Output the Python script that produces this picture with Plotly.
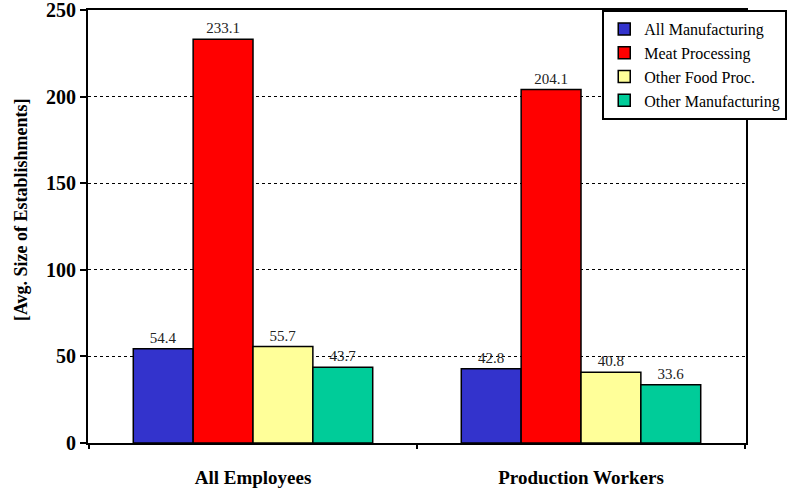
import plotly.graph_objects as go

# Average establishment size by worker type
groups = ["All Employees", "Production Workers"]
series_names = ["All Manufacturing", "Meat Processing", "Other Food Proc.", "Other Manufacturing"]
all_manufacturing = [54.4, 42.8]
meat_processing = [233.1, 204.1]
other_food_proc = [55.7, 40.8]
other_manufacturing = [43.7, 33.6]
y_ticks = [0, 50, 100, 150, 200, 250]

series_values = [all_manufacturing, meat_processing, other_food_proc, other_manufacturing]
colors = ["#3333CC", "#FF0000", "#FFFF99", "#00CC99"]

SERIF = "Liberation Serif, Times New Roman, serif"

fig = go.Figure()
for i, (name, vals, col) in enumerate(zip(series_names, series_values, colors)):
    fig.add_trace(go.Bar(
        x=groups,
        y=vals,
        name=name,
        legendgroup=name,
        marker=dict(color=col, line=dict(color="black", width=1.5)),
        text=[f"{v:.1f}" for v in vals],
        textposition="outside",
        textfont=dict(family=SERIF, size=15, color="#222222"),
        cliponaxis=False,
    ))

fig.update_layout(
    width=793,
    height=489,
    margin=dict(l=88, r=47, t=10, b=46, autoexpand=False),
    paper_bgcolor="white",
    plot_bgcolor="white",
    barmode="group",
    bargap=0.27,
    bargroupgap=0,
    font=dict(family=SERIF, color="black"),
    legend=dict(
        x=0.7815, y=1.0, xanchor="left", yanchor="top",
        bgcolor="white", bordercolor="black", borderwidth=2,
        font=dict(family=SERIF, size=16, color="black"),
        tracegroupgap=4,
        traceorder="normal",
    ),
    showlegend=True,
)

fig.update_yaxes(
    range=[0, 250],
    tickvals=y_ticks,
    ticktext=[f"<b>{t}</b>" for t in y_ticks],
    tickfont=dict(family=SERIF, size=20, color="black"),
    ticklabeloverflow="allow",
    ticks="outside", ticklen=6, tickwidth=2, tickcolor="black",
    showline=True, linecolor="black", linewidth=2, mirror=True,
    showgrid=True, gridcolor="black", gridwidth=1.2, griddash="dot",
    zeroline=False,
    automargin=False,
)
fig.update_xaxes(
    tickfont=dict(family=SERIF, size=19, color="black"),
    tickvals=groups,
    ticktext=[f"<b>{g}</b>" for g in groups],
    ticks="",
    ticklabelstandoff=16,
    ticklabeloverflow="allow",
    showline=True, linecolor="black", linewidth=2, mirror=True,
    showgrid=False,
    automargin=False,
)

# boundary ticks between categories
for xv in [-0.5, 0.5, 1.5]:
    fig.add_shape(type="line", xref="x", yref="paper", x0=xv, x1=xv, y0=0, y1=-0.014,
                  line=dict(color="black", width=2))

# rotated y-axis title
fig.add_annotation(
    text="<b>[Avg. Size of Establishments]</b>",
    xref="paper", yref="paper", x=-0.102, y=0.54,
    xanchor="center", yanchor="middle", textangle=-90, showarrow=False,
    font=dict(family=SERIF, size=18, color="black"),
)

fig.write_html("out.html")
